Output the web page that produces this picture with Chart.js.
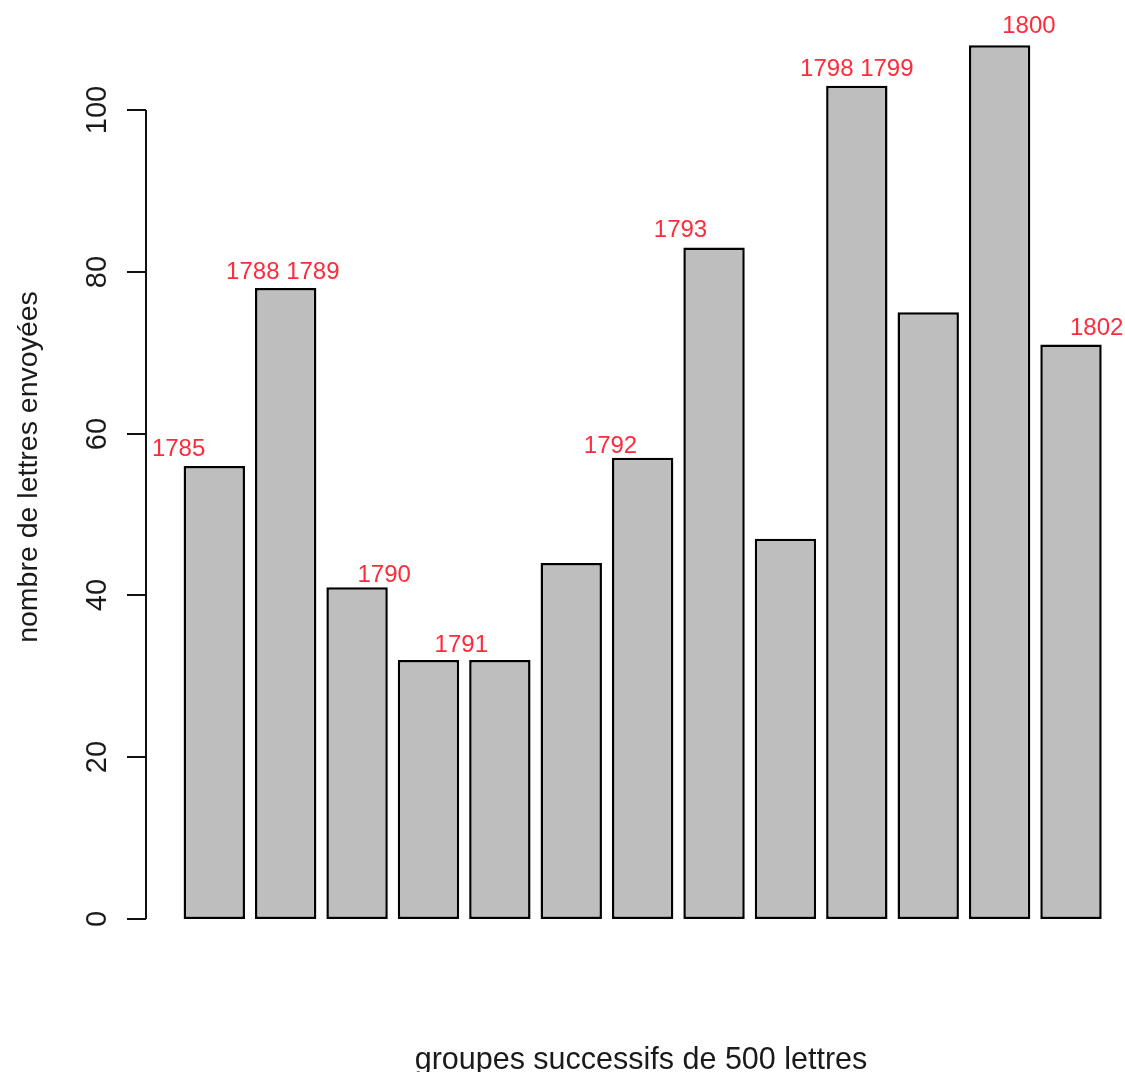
<!DOCTYPE html>
<html>
<head>
<meta charset="utf-8">
<script src="https://cdn.jsdelivr.net/npm/chart.js@4/dist/chart.umd.min.js"></script>
<style>
html,body{margin:0;padding:0;background:#fff;}
canvas{display:block;}
</style>
</head>
<body>
<canvas id="c" width="1125" height="1072"></canvas>
<script>
// ---- data ----
const categories = ['1','2','3','4','5','6','7','8','9','10','11','12','13'];
const lettersSent = [56, 78, 41, 32, 32, 44, 57, 83, 47, 103, 75, 108, 71];
const yTicks = [0, 20, 40, 60, 80, 100];
const yearLabels = ['1785', '1788 1789', '1790', '1791', '1792', '1793', '1798 1799', '1800', '1802'];
// annotation anchors in data units (x: bar index position, y: value)
const yearLabelX = [-0.50, 0.96, 2.38, 3.46, 5.55, 6.53, 9.00, 11.41, 12.36];
const yearLabelY = [58.4, 80.3, 42.9, 34.2, 58.8, 85.5, 105.4, 110.7, 73.4];
const xTitle = 'groupes successifs de 500 lettres';
const yTitle = 'nombre de lettres envoyées';

const FONT = '"Liberation Sans", Arial, sans-serif';

const rAxisPlugin = {
  id: 'rAxis',
  afterDraw(chart) {
    const ctx = chart.ctx;
    const xs = chart.scales.x, ys = chart.scales.y;
    const axisX = 146, tickLen = 19;
    ctx.save();
    // y axis line
    ctx.strokeStyle = '#111';
    ctx.lineWidth = 2;
    ctx.beginPath();
    ctx.moveTo(axisX, ys.getPixelForValue(yTicks[0]));
    ctx.lineTo(axisX, ys.getPixelForValue(yTicks[yTicks.length - 1]));
    ctx.stroke();
    // ticks + labels
    ctx.fillStyle = '#1a1a1a';
    ctx.font = '29px ' + FONT;
    ctx.textAlign = 'center';
    ctx.textBaseline = 'alphabetic';
    yTicks.forEach(v => {
      const py = Math.round(ys.getPixelForValue(v));
      ctx.beginPath();
      ctx.moveTo(axisX - tickLen, py);
      ctx.lineTo(axisX, py);
      ctx.stroke();
      ctx.save();
      ctx.translate(106, py);
      ctx.rotate(-Math.PI / 2);
      ctx.fillText(String(v), 0, 0);
      ctx.restore();
    });
    // y title
    ctx.font = '28.5px ' + FONT;
    ctx.save();
    ctx.translate(37, 467);
    ctx.rotate(-Math.PI / 2);
    ctx.fillText(yTitle, 0, 0);
    ctx.restore();
    // x title
    ctx.font = '30.5px ' + FONT;
    ctx.fillText(xTitle, 641, 1069);
    // year annotations
    const x0 = xs.getPixelForValue(0), step = xs.getPixelForValue(1) - x0;
    ctx.fillStyle = '#ff2a3a';
    ctx.font = '24px ' + FONT;
    ctx.textBaseline = 'middle';
    yearLabels.forEach((t, i) => {
      ctx.fillText(t, x0 + yearLabelX[i] * step, ys.getPixelForValue(yearLabelY[i]) + 3);
    });
    ctx.restore();
  }
};

new Chart(document.getElementById('c'), {
  type: 'bar',
  data: {
    labels: categories,
    datasets: [{
      data: lettersSent,
      backgroundColor: '#bebebe',
      borderColor: '#000',
      borderWidth: 2.5,
      borderSkipped: false,
      barPercentage: 0.86,
      categoryPercentage: 1
    }]
  },
  options: {
    responsive: false,
    animation: false,
    devicePixelRatio: 1,
    layout: { padding: { left: 178.6, right: 18.3, top: 29, bottom: 153 } },
    plugins: { legend: { display: false }, tooltip: { enabled: false } },
    scales: {
      x: { display: false, offset: true, grid: { display: false } },
      y: { display: false, min: 0, max: 110, grid: { display: false } }
    }
  },
  plugins: [rAxisPlugin]
});
</script>
</body>
</html>
